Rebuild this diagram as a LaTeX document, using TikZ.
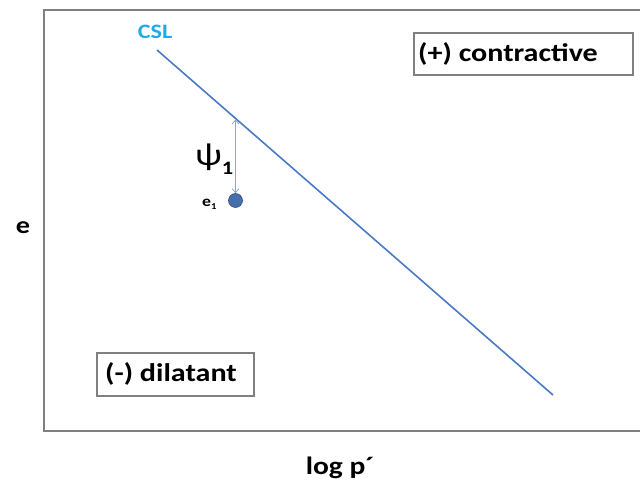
\documentclass[tikz,border=0pt]{standalone}
\usepackage{fontspec}
\usetikzlibrary{arrows.meta}
\setmainfont[FakeStretch=1.18]{Carlito}
\definecolor{csl}{RGB}{74,122,196}
\definecolor{csltext}{RGB}{30,170,235}
\definecolor{framec}{RGB}{128,128,128}
\definecolor{ptc}{RGB}{70,110,170}
\definecolor{arrc}{RGB}{130,170,220}
\begin{document}
\begin{tikzpicture}[x=1pt,y=-1pt,
  lbl/.style={inner sep=0pt},
  boxc/.style={draw=framec, line width=1.3pt, fill=white},
  boxlbl/.style={font=\bfseries\fontsize{25.5}{28}\selectfont, inner sep=0pt, anchor=west}]
\useasboundingbox (0,0) rectangle (640,489);
% frame
\draw[framec, line width=1.8pt] (640,10) -- (44,10) -- (44,431) -- (640,431);
% CSL line
\coordinate (cslA) at (157,50);
\coordinate (cslB) at (553,395);
\draw[csl, line width=1.6pt] (cslA) -- (cslB);
\node[lbl, text=csltext, font=\bfseries\fontsize{20.5}{22}\selectfont] (csllbl) at (155,32) {CSL};
% point
\node[circle, fill=ptc, draw=ptc!75!black, line width=0.6pt, inner sep=0pt, minimum size=14pt] (e1pt) at (235.5,200.5) {};
\coordinate (onl) at (235.5,119.5);
\draw[arrc, line width=0.8pt, {Straight Barb[length=4pt,width=7pt]}-{Straight Barb[length=4pt,width=7pt]}] (onl) -- (e1pt.north);
\node[lbl, anchor=base west, font=\fontsize{32}{34}\selectfont] (psi) at (195,166) {ψ\raisebox{-9pt}{\bfseries\fontsize{19}{20}\selectfont 1}};
\node[lbl, anchor=base west, font=\bfseries\fontsize{15}{16}\selectfont] (e1) at (202,207) {e\raisebox{-3pt}{\fontsize{9}{10}\selectfont 1}};
% boxes
\draw[boxc] (414,33) rectangle (633,75);
\node[boxlbl] (contr) at (418,54) {(+) contractive};
\draw[boxc] (97,353) rectangle (254,396);
\node[boxlbl] (dil) at (105,374) {(-) dilatant};
% axes labels
\node[lbl, font=\bfseries\fontsize{24}{26}\selectfont] (ylab) at (23,228) {e};
\node[lbl, font=\bfseries\fontsize{25}{27}\selectfont] (xlab) at (340,468) {log p´};
\end{tikzpicture}
\end{document}
